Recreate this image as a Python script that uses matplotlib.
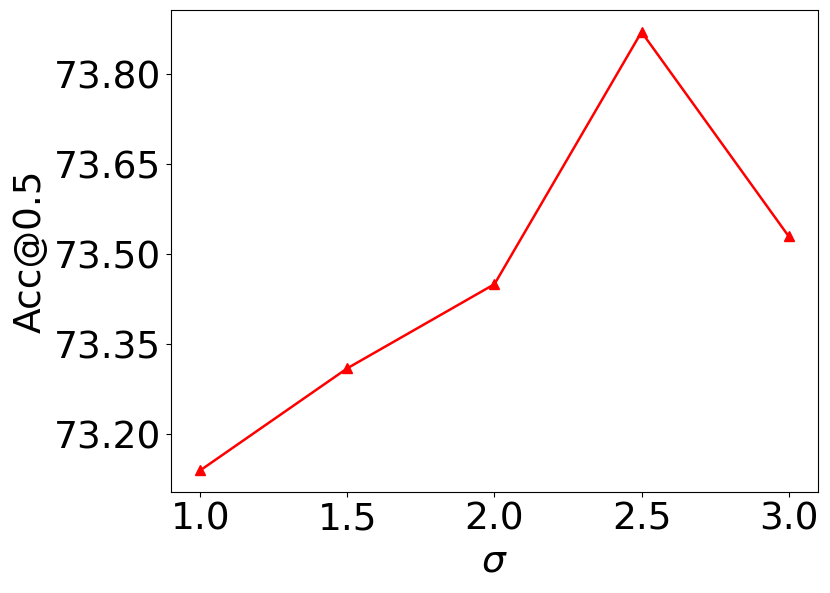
import numpy as np
import matplotlib
matplotlib.use('Agg')
import matplotlib.pyplot as plt

# sigma values and accuracy
sigma = [1.0, 1.5, 2.0, 2.5, 3.0]
acc = [73.14, 73.31, 73.45, 73.87, 73.53]
y_ticks = [73.20, 73.35, 73.50, 73.65, 73.80]
x_ticks = [1.0, 1.5, 2.0, 2.5, 3.0]

fig = plt.figure(figsize=(8.3, 5.93), dpi=100)
ax = fig.add_axes([0.206, 0.170, 0.7795, 0.813])

ax.plot(sigma, acc, color='red', marker='^', markersize=7, linewidth=1.8)

ax.set_xticks(x_ticks)
ax.set_xticklabels([f'{t:.1f}' for t in x_ticks])
ax.set_yticks(y_ticks)
ax.set_yticklabels([f'{t:.2f}' for t in y_ticks])
ax.tick_params(labelsize=27)

ax.set_xlabel(r'$\sigma$', fontsize=27)
ax.set_ylabel('Acc@0.5', fontsize=27)

fig.savefig('out.png', dpi=100)
